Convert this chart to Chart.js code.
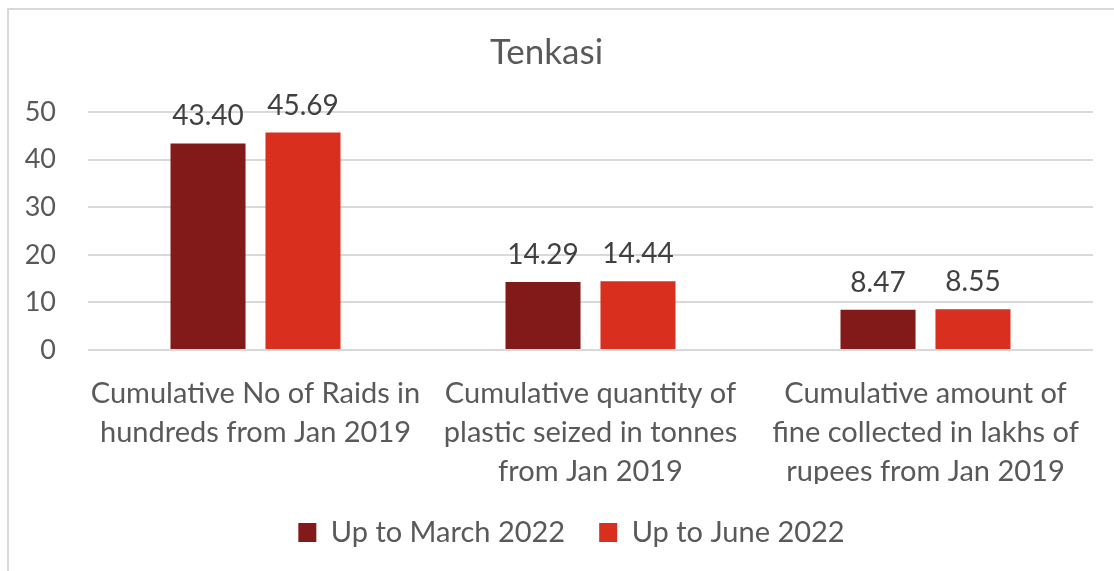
<!DOCTYPE html>
<html>
<head>
<meta charset="utf-8">
<script src="https://cdn.jsdelivr.net/npm/chart.js@4/dist/chart.umd.min.js"></script>
<style>
  html, body { margin: 0; padding: 0; background: #fff; overflow: hidden; }
  #wrap { position: absolute; left: 0; top: 0; width: 1114px; height: 571px; overflow: hidden; }
  #frame { position: absolute; left: 7px; top: 8px; width: 1200px; height: 700px; border: 2px solid #d9d9d9; box-sizing: border-box; }
  canvas { position: absolute; left: 0; top: 0; }
</style>
</head>
<body>
<div id="wrap">
  <div id="frame"></div>
  <canvas id="c" width="1114" height="571"></canvas>
</div>
<script>
const title = "Tenkasi";
const categories = [
  ["Cumulative No of Raids in", "hundreds from Jan 2019"],
  ["Cumulative quantity of", "plastic seized in tonnes", "from Jan 2019"],
  ["Cumulative amount of", "fine collected in lakhs of", "rupees from Jan 2019"]
];
const seriesNames = ["Up to March 2022", "Up to June 2022"];
const marchValues = [43.40, 14.29, 8.47];
const juneValues = [45.69, 14.44, 8.55];
const yTicks = [0, 10, 20, 30, 40, 50];

const FONT = "Lato, 'Open Sans', sans-serif";
const TXT = "#595959";

const dataLabels = {
  id: "dataLabels",
  afterDatasetsDraw(chart) {
    const ctx = chart.ctx;
    ctx.save();
    ctx.font = "28px " + FONT;
    ctx.fillStyle = "#404040";
    ctx.textAlign = "center";
    ctx.textBaseline = "alphabetic";
    chart.data.datasets.forEach((ds, i) => {
      chart.getDatasetMeta(i).data.forEach((bar, j) => {
        ctx.fillText(ds.data[j].toFixed(2), bar.x, bar.y - 18);
      });
    });
    ctx.restore();
  }
};

const legendShift = {
  id: "legendShift",
  afterLayout(chart) {
    const l = chart.legend;
    if (l) { l.left += 25; l.right += 25; }
  }
};

new Chart(document.getElementById("c"), {
  type: "bar",
  data: {
    labels: categories,
    datasets: [
      { label: seriesNames[0], data: marchValues, backgroundColor: "#821a1a" },
      { label: seriesNames[1], data: juneValues, backgroundColor: "#d82f1f" }
    ]
  },
  options: {
    responsive: false,
    animation: false,
    devicePixelRatio: 1,
    layout: { padding: { left: 0, right: 21, top: 32, bottom: 14 } },
    datasets: { bar: { categoryPercentage: 0.567, barPercentage: 0.79 } },
    plugins: {
      title: {
        display: true, text: title, color: TXT,
        font: { family: FONT, size: 35, weight: "normal", lineHeight: 1.2 },
        padding: { top: 0, bottom: 38 }
      },
      legend: {
        position: "bottom",
        labels: {
          color: TXT, font: { family: FONT, size: 29 },
          boxWidth: 18, boxHeight: 19, padding: 34
        }
      },
      tooltip: { enabled: false }
    },
    scales: {
      x: {
        grid: { display: false },
        border: { display: false },
        ticks: {
          color: TXT, font: { family: FONT, size: 29, lineHeight: 1.35 },
          maxRotation: 0, autoSkip: false, padding: 16
        },
        afterFit(s) { s.height = 134; }
      },
      y: {
        min: 0, max: 50,
        afterBuildTicks(s) { s.ticks = yTicks.map(v => ({ value: v })); },
        grid: { color: "#d9d9d9", lineWidth: 2, drawTicks: false },
        border: { display: false },
        ticks: { color: TXT, font: { family: FONT, size: 27 }, padding: 32 },
        afterFit(s) { s.width = 88; }
      }
    }
  },
  plugins: [dataLabels, legendShift]
});
</script>
</body>
</html>
